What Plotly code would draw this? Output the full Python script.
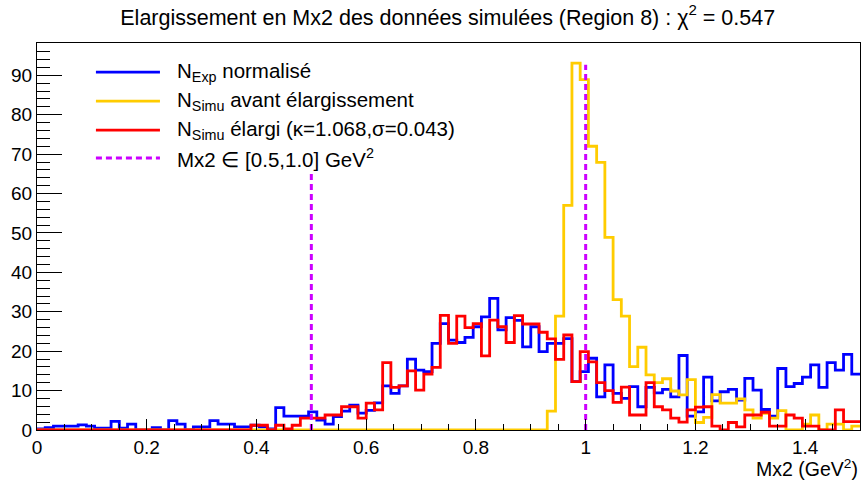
import numpy as np
import plotly.graph_objects as go

# Mx2 binning: 100 bins of 0.015 GeV^2 between 0 and 1.5
bin_width = 0.015
n_bins = 100
edges = np.arange(n_bins + 1) * bin_width

# Normalised experimental counts per bin
n_exp = [
    0.3, 0.6, 1.0, 1.0, 1.0, 1.3, 1.0, 0.5, 0.5, 2.2,
    0.5, 1.5, 0.0, 0.0, 0.6, 0.0, 2.4, 1.5, 0.0, 0.8,
    0.8, 2.4, 1.5, 1.5, 0.8, 0.8, 1.2, 0.8, 0.3, 5.7,
    3.5, 3.5, 3.5, 4.6, 2.5, 1.5, 3.4, 4.8, 6.3, 4.3,
    5.0, 6.9, 11.2, 9.3, 11.2, 18.0, 15.2, 14.8, 22.0, 27.0,
    22.8, 22.2, 23.5, 26.2, 28.7, 33.4, 25.4, 28.5, 27.8, 21.1,
    26.2, 19.9, 22.0, 22.0, 23.2, 12.3, 14.8, 18.2, 8.4, 16.5,
    9.3, 8.0, 11.0, 5.9, 10.8, 9.4, 10.3, 8.4, 18.9, 3.5,
    4.6, 13.4, 7.4, 9.7, 10.3, 7.6, 13.1, 10.1, 5.2, 3.5,
    15.6, 11.0, 11.8, 13.4, 16.5, 10.8, 17.1, 15.2, 19.2, 14.2,
]

# Simulated counts before smearing
n_simu_raw = [0.0] * 62 + [
    4.8, 28.9, 57.0, 93.1, 88.9, 72.0, 67.9, 48.9,
    33.1, 28.9, 16.1, 21.0, 14.0, 12.0, 13.0, 9.9, 8.9, 12.8,
    1.9, 3.2, 9.0, 6.8, 6.8, 7.9, 5.1, 3.0, 4.2, 3.0,
    4.9, 0.0, 0.0, 1.5, 3.8, 0.0, 1.5, 1.5, 0.0, 1.0,
]

# Simulated counts after smearing (kappa = 1.068, sigma = 0.043)
n_simu_smeared = [0.0] * 26 + [
    1.2, 1.2, 0.0, 1.2,
    0.3, 1.2, 3.0, 3.0, 3.0, 3.8, 3.8, 5.9, 5.9, 3.0,
    6.8, 5.1, 17.1, 10.8, 11.2, 15.0, 10.1, 14.2, 15.9, 29.1,
    22.0, 28.9, 26.0, 27.0, 18.8, 27.9, 26.2, 22.2, 29.0, 26.9,
    26.9, 24.8, 23.1, 17.9, 24.1, 12.3, 19.9, 17.3, 12.0, 10.0,
    7.0, 10.9, 3.8, 3.8, 12.0, 5.9, 5.1, 3.0, 2.0, 5.1,
    5.8, 5.9, 1.0, 0.0, 1.9, 0.8, 3.8, 3.8, 4.5, 1.0,
    1.0, 3.8, 3.0, 1.0, 1.0, 0.0, 0.0, 5.1, 2.1, 2.1,
]

# Mx2 selection window and heights of its marker lines
window_edges = [0.5, 1.0]
window_heights = [65.0, 92.7]

y_max = 98.2

C_EXP = "#0000ff"
C_RAW = "#ffcc00"
C_SMEAR = "#ff0000"
C_WIN = "#cc00ff"
FONT = "Liberation Sans, Arial, Helvetica, sans-serif"


def step_trace(values, color):
    y = list(values) + [values[-1]]
    return go.Scatter(
        x=edges, y=y, mode="lines", line_shape="hv",
        line=dict(color=color, width=2.8), showlegend=False,
        hoverinfo="skip",
    )


fig = go.Figure()
fig.add_trace(step_trace(n_exp, C_EXP))
fig.add_trace(step_trace(n_simu_raw, C_RAW))
fig.add_trace(step_trace(n_simu_smeared, C_SMEAR))

for xe, h in zip(window_edges, window_heights):
    fig.add_trace(go.Scatter(
        x=[xe, xe], y=[0, h], mode="lines",
        line=dict(color=C_WIN, width=3, dash="6px,4px"),
        showlegend=False, hoverinfo="skip",
    ))

# Legend drawn as line samples plus labels inside the frame
legend_rows = [
    ("N<sub>Exp</sub> normalisé", C_EXP, "solid"),
    ("N<sub>Simu</sub> avant élargissement", C_RAW, "solid"),
    ("N<sub>Simu</sub> élargi (κ=1.068,σ=0.043)", C_SMEAR, "solid"),
    ("Mx2 ∈ [0.5,1.0] GeV<sup>2</sup>", C_WIN, "6px,4px"),
]
row_y = [0.925, 0.850, 0.775, 0.703]
for (label, color, dash), yy in zip(legend_rows, row_y):
    fig.add_shape(
        type="line", xref="paper", yref="paper",
        x0=0.0716, x1=0.1494, y0=yy, y1=yy,
        line=dict(color=color, width=2.8 if dash == "solid" else 3, dash=dash),
    )
    fig.add_annotation(
        x=0.1676, y=yy, xref="paper", yref="paper",
        text=label, showarrow=False, xanchor="left", yanchor="middle",
        font=dict(family=FONT, size=20.5, color="black"),
    )

fig.add_annotation(
    x=1.0, y=-0.099, xref="paper", yref="paper",
    text="Mx2 (GeV<sup>2</sup>)", showarrow=False,
    xanchor="right", yanchor="middle",
    font=dict(family=FONT, size=19.5, color="black"),
)

fig.update_layout(
    width=861, height=481,
    margin=dict(l=37, r=1, t=43, b=51),
    paper_bgcolor="white", plot_bgcolor="white",
    title=dict(
        text="Elargissement en Mx2 des données simulées (Region 8) : χ<sup>2</sup> = 0.547",
        x=0.52, xanchor="center", y=1 - 17 / 481, yanchor="middle",
        font=dict(family=FONT, size=21.5, color="black"),
    ),
    xaxis=dict(
        range=[0, 1.5], showgrid=False, zeroline=False,
        showline=True, linecolor="black", linewidth=1, mirror=True,
        ticks="inside", ticklen=11, tickcolor="black",
        tickmode="linear", tick0=0, dtick=0.2,
        minor=dict(ticks="inside", ticklen=6, dtick=0.05, tickcolor="black"),
        tickfont=dict(family=FONT, size=19, color="black"),
    ),
    yaxis=dict(
        range=[0, y_max], showgrid=False, zeroline=False,
        showline=True, linecolor="black", linewidth=1, mirror=True,
        ticks="inside", ticklen=25, tickcolor="black",
        tickmode="linear", tick0=0, dtick=10,
        minor=dict(ticks="inside", ticklen=13, dtick=2, tickcolor="black"),
        tickfont=dict(family=FONT, size=19, color="black"),
    ),
)

fig.write_html("out.html")
